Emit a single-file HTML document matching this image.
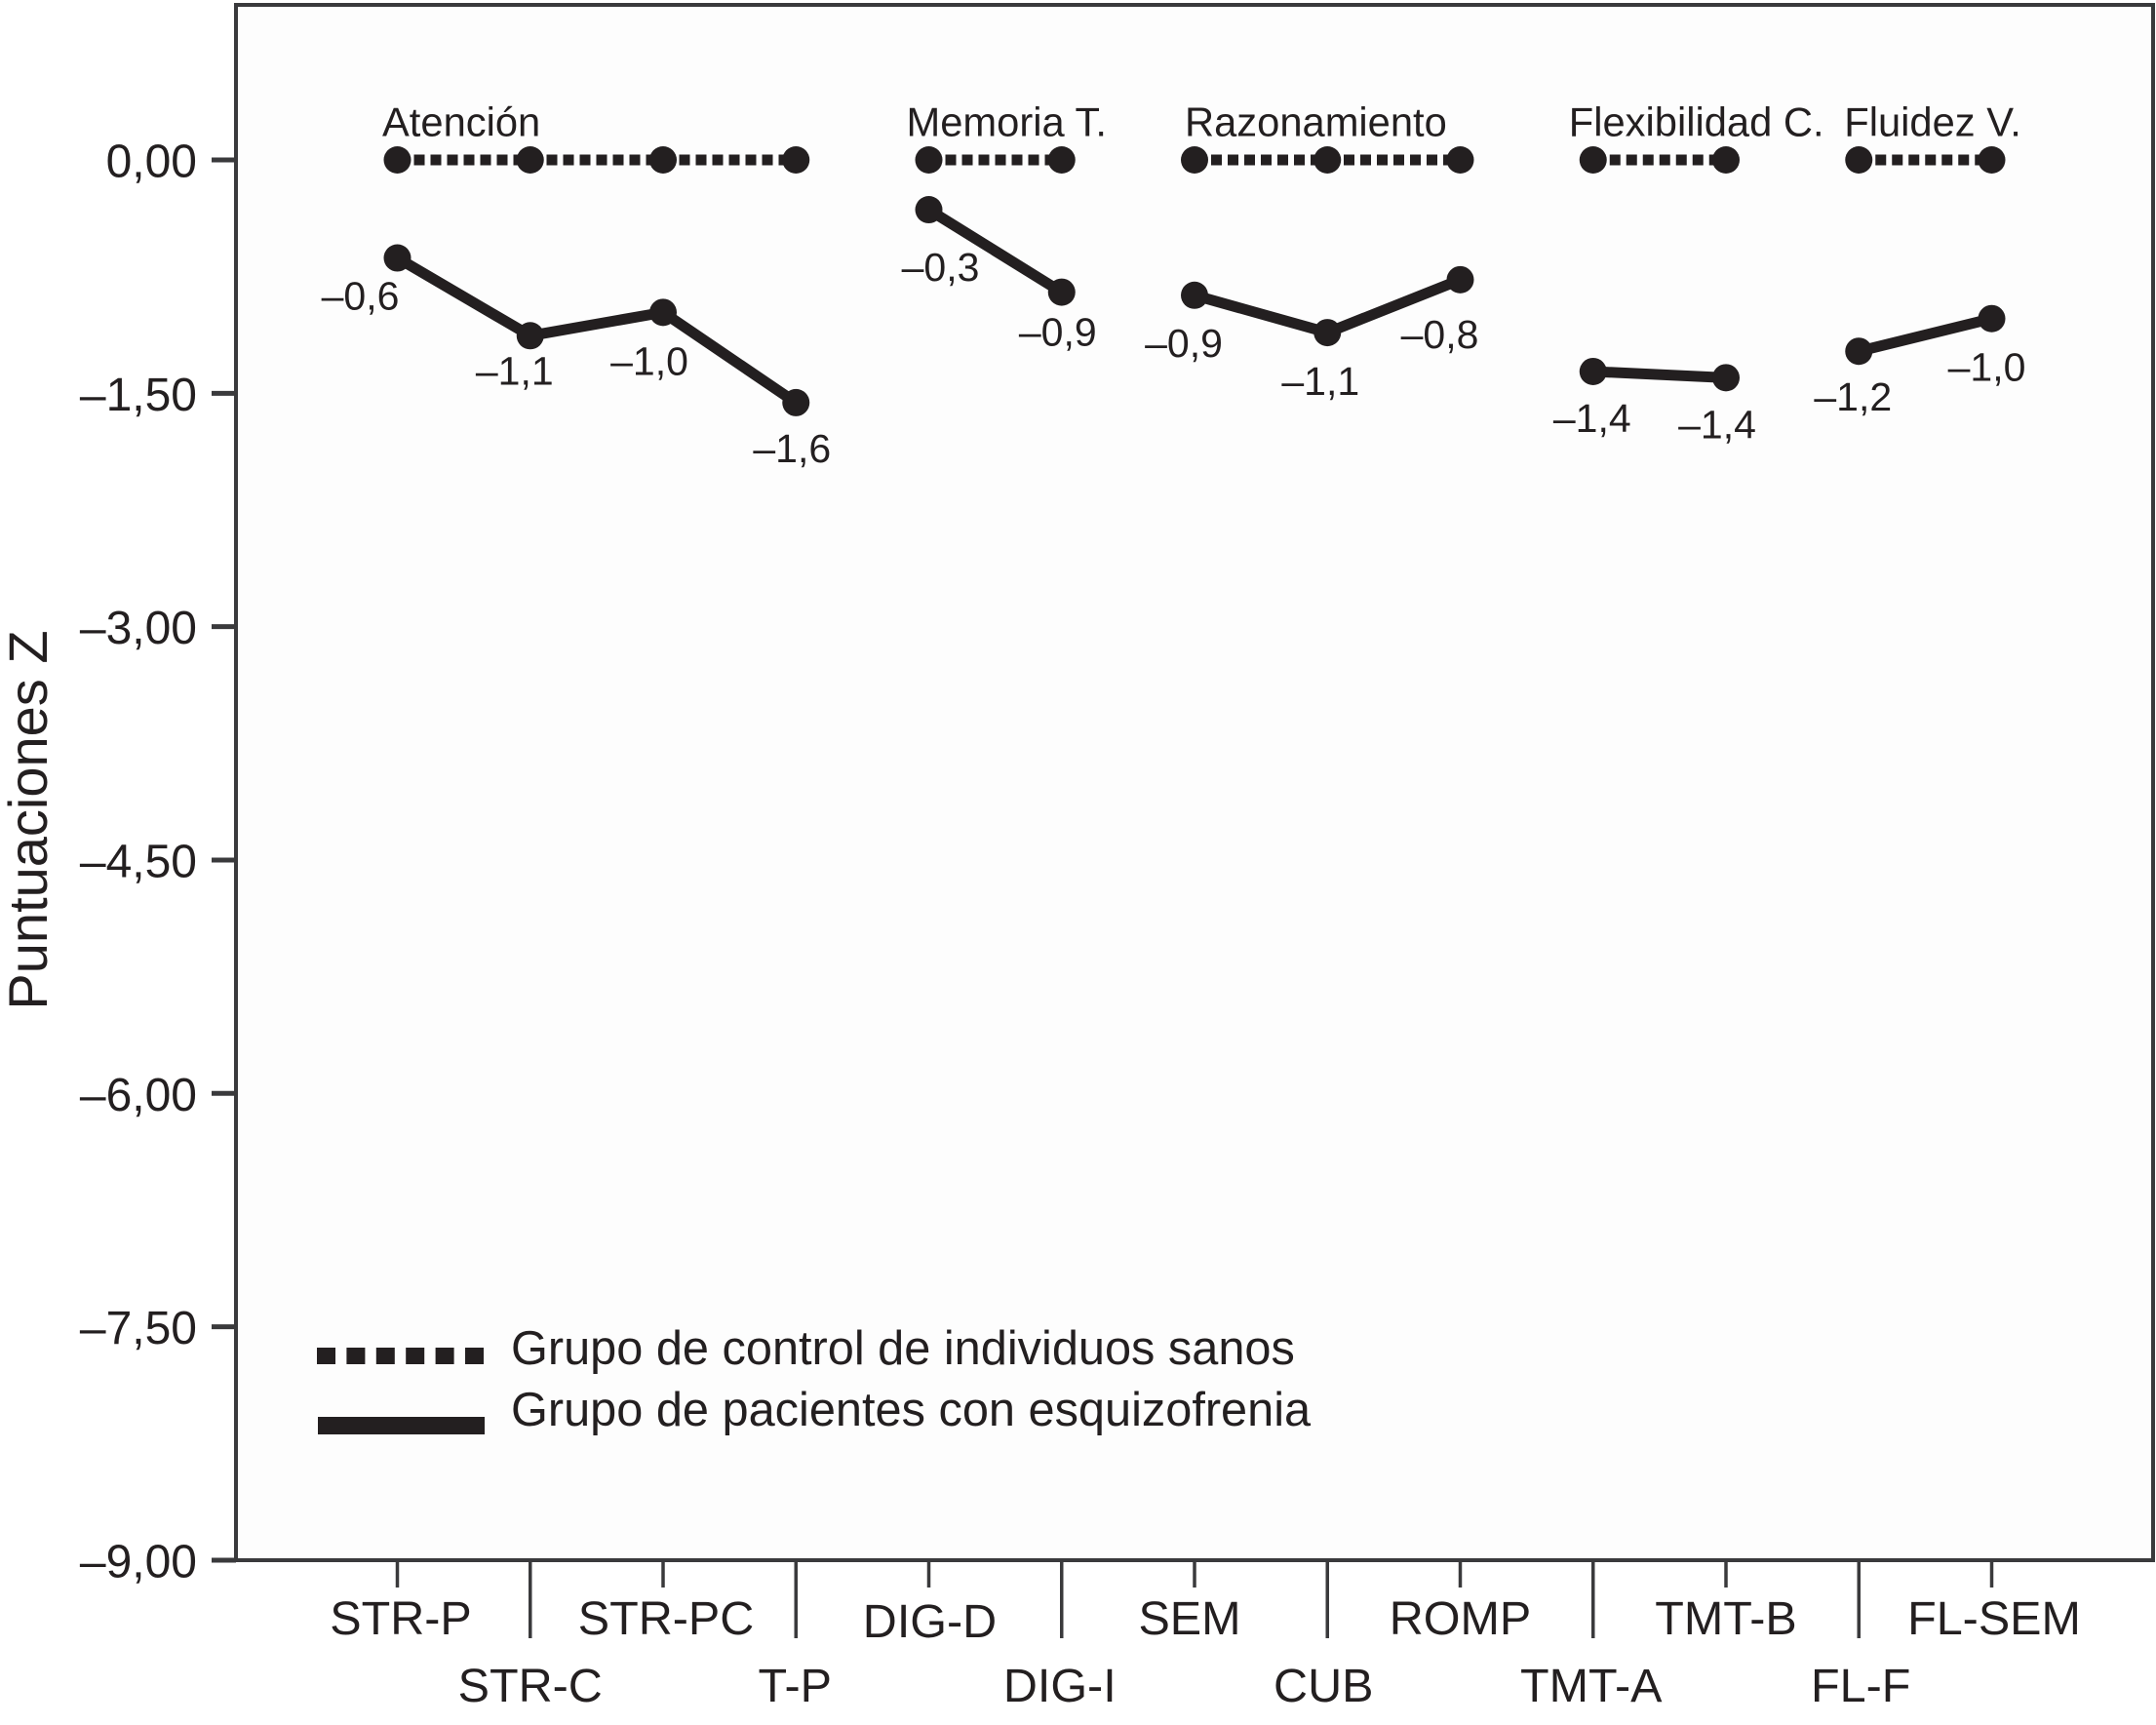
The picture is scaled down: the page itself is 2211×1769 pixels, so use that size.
<!DOCTYPE html>
<html lang="es">
<head>
<meta charset="utf-8">
<title>Puntuaciones Z</title>
<style>
html,body{margin:0;padding:0;background:#fff;}
svg{display:block;}
text{font-family:"Liberation Sans",Arial,sans-serif;fill:#231f20;}
</style>
</head>
<body>
<svg id="chart" xmlns="http://www.w3.org/2000/svg" width="2211" height="1769" viewBox="0 0 2211 1769">
  <rect x="0" y="0" width="2211" height="1769" fill="#ffffff"/>
  <rect x="242" y="5" width="1966" height="1595" fill="#fdfdfd"/>
  <text transform="translate(48,841) rotate(-90)" text-anchor="middle" font-size="56">Puntuaciones Z</text>
  <g id="marks"></g>
  <rect x="242" y="5" width="1966" height="1595" fill="none" stroke="#3a3a3c" stroke-width="4"/>
  <g id="axes"></g>
  <g>
    <line x1="325" x2="496" y1="1390.5" y2="1390.5" stroke="#231f20" stroke-width="17" stroke-dasharray="19 11.4"/>
    <text x="524" y="1399" font-size="48.7">Grupo de control de individuos sanos</text>
    <rect x="326" y="1453" width="171" height="18" fill="#231f20"/>
    <text x="524" y="1462" font-size="48.7">Grupo de pacientes con esquizofrenia</text>
  </g>
</svg>
<script>
const categories = ["STR-P","STR-C","STR-PC","T-P","DIG-D","DIG-I","SEM","CUB","ROMP","TMT-A","TMT-B","FL-F","FL-SEM"];
const controlValues = [0,0,0,0,0,0,0,0,0,0,0,0,0];
const patientValues = [-0.63,-1.13,-0.98,-1.56,-0.32,-0.85,-0.87,-1.11,-0.77,-1.36,-1.40,-1.23,-1.02];
const printedValues = ["–0,6","–1,1","–1,0","–1,6","–0,3","–0,9","–0,9","–1,1","–0,8","–1,4","–1,4","–1,2","–1,0"];
const yTickValues = [0,-1.5,-3,-4.5,-6,-7.5,-9];
const yTickLabels = ["0,00","–1,50","–3,00","–4,50","–6,00","–7,50","–9,00"];
const domainNames = ["Atención","Memoria T.","Razonamiento","Flexibilidad C.","Fluidez V."];
const domainSizes = [4,2,3,2,2];

const NS = "http://www.w3.org/2000/svg";
const INK = "#231f20";
function xAxis(i){ return 407.5 + i * 136.25; }
function yAxis(v){ return 164 - v * 159.55; }
function make(tag, attrs, parent){
  const el = document.createElementNS(NS, tag);
  for (const k in attrs) el.setAttribute(k, attrs[k]);
  parent.appendChild(el);
  return el;
}
const marks = document.getElementById("marks");
const axes = document.getElementById("axes");

// Y axis ticks and labels
yTickValues.forEach(function(v, i){
  const tick = make("line", {x1:217, x2:242, y1:yAxis(v), y2:yAxis(v), stroke:"#3a3a3c", "stroke-width":5}, axes);
  
  
  const label = make("text", {x:202, y:yAxis(v)+17.5, "text-anchor":"end", "font-size":48}, axes);
  label.textContent = yTickLabels[i];
  
  
});

// X axis ticks and two-row labels
const rowTextNudge = [3.5,0,3,-1,1,-2,-5,-4,0,-2,0,2,2.5];
categories.forEach(function(c, i){
  const odd = i % 2 === 1;
  const tick = make("line", {x1:xAxis(i), x2:xAxis(i), y1:1600, y2: odd ? 1680 : 1628, stroke:"#3a3a3c", "stroke-width":3.5}, axes);
  
  
  const base = odd ? 1745 : (c === "DIG-D" ? 1679 : 1676);
  const label = make("text", {x:xAxis(i)+rowTextNudge[i], y:base, "text-anchor":"middle", "font-size":48.5}, axes);
  label.textContent = c;
  
  
});

// Series drawn per cognitive domain
const titleNudge = [-15.5,-23,-10,-25,-15];
let start = 0;
domainSizes.forEach(function(size, g){
  const idx = [];
  for (let k = 0; k < size; k++) idx.push(start + k);

  const ctrl = make("polyline", {points: idx.map(function(i){return xAxis(i)+","+yAxis(controlValues[i]);}).join(" "),
    fill:"none", stroke:INK, "stroke-width":11, "stroke-dasharray":"11 6"}, marks);
  
  

  const pat = make("polyline", {points: idx.map(function(i){return xAxis(i)+","+yAxis(patientValues[i]);}).join(" "),
    fill:"none", stroke:INK, "stroke-width":11, "stroke-linejoin":"round"}, marks);
  
  

  idx.forEach(function(i){
    const a = make("circle", {cx:xAxis(i), cy:yAxis(controlValues[i]), r:14, fill:INK}, marks);
    
    
    const b = make("circle", {cx:xAxis(i), cy:yAxis(patientValues[i]), r:14, fill:INK}, marks);
    
    
  });

  const title = make("text", {x:xAxis(start)+titleNudge[g], y:139.5, "font-size":41.7}, marks);
  title.textContent = domainNames[g];
  
  
  start += size;
});

// Printed values sit at a fixed nudge from each patient point
const nudgeX = [-38,-16,-14,-4,12,-4,-11,-7,-21,-1,-9,-6,-5];
const nudgeY = [53,50,64,61,73,55,63,64,70,62,62,61,64];
printedValues.forEach(function(t, i){
  const label = make("text", {x:xAxis(i)+nudgeX[i], y:yAxis(patientValues[i])+nudgeY[i], "text-anchor":"middle", "font-size":41}, marks);
  label.textContent = t;
  
  
});
</script>
</body>
</html>
